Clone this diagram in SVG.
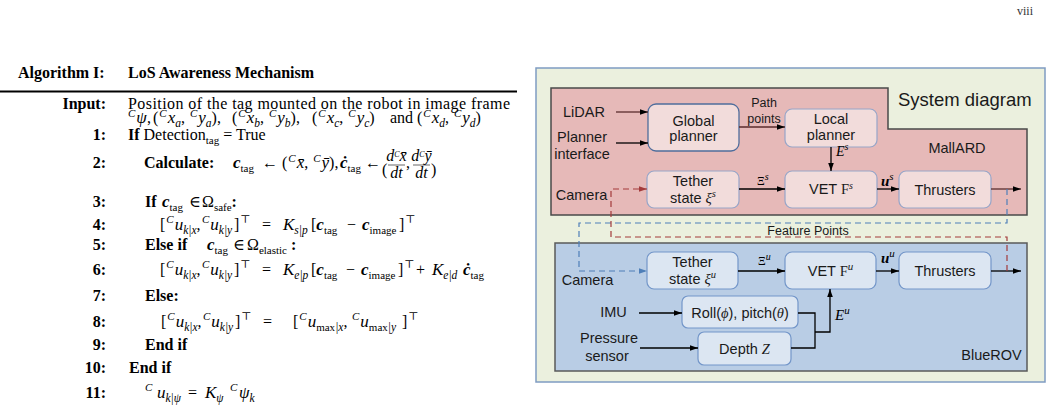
<svg xmlns="http://www.w3.org/2000/svg" width="1052" height="409" viewBox="0 0 1052 409">
<style>
.t{font-family:"Liberation Serif","DejaVu Serif",serif;font-size:16px;fill:#000}
.b{font-weight:bold}
.mi{font-style:italic;font-size:17px}
.bi{font-style:italic;font-weight:bold;font-size:17px}
.sc{font-style:italic;font-size:11px}
.sb{font-style:italic;font-size:11.5px}
.rs{font-size:11px;font-style:normal;font-weight:normal}
.num{font-weight:bold;text-anchor:end}
.sa{font-family:"Liberation Sans",Arial,sans-serif;font-size:14.5px;fill:#1a1a1a;text-anchor:middle}
.ss{font-family:"Liberation Serif","DejaVu Serif",serif;font-style:italic}
.sr{font-family:"Liberation Serif","DejaVu Serif",serif}
.ln{fill:none;stroke:#000;stroke-width:1.3}
.lr{fill:none;stroke:#5a2d2d;stroke-width:1.3}
.dr{fill:none;stroke:#a33b3b;stroke-width:1.2;stroke-dasharray:6 4}
.db{fill:none;stroke:#4f7fb8;stroke-width:1.2;stroke-dasharray:6 4}
.nr{fill:#f2dcdb;stroke:#97a5c8;stroke-width:1.2}
.nb{fill:#dce6f2;stroke:#7396c9;stroke-width:1.2}
</style>
<defs>
<marker id="ah" viewBox="0 0 10 10" refX="10" refY="5" markerWidth="8" markerHeight="8" markerUnits="userSpaceOnUse" orient="auto"><path d="M0,1.5 L10,5 L0,8.5 Z" fill="#000"/></marker>
<marker id="ahr" viewBox="0 0 10 10" refX="10" refY="5" markerWidth="8" markerHeight="8" markerUnits="userSpaceOnUse" orient="auto"><path d="M0,1.5 L10,5 L0,8.5 Z" fill="#a33b3b"/></marker>
<marker id="ahb" viewBox="0 0 10 10" refX="10" refY="5" markerWidth="8" markerHeight="8" markerUnits="userSpaceOnUse" orient="auto"><path d="M0,1.5 L10,5 L0,8.5 Z" fill="#4f7fb8"/></marker>
</defs>

<text x="1017" y="15" font-family="Liberation Serif, serif" font-size="12" fill="#333">viii</text>

<g id="algorithm">
<text class="t b" x="18" y="78">Algorithm I:</text>
<text class="t b" x="128" y="78">LoS Awareness Mechanism</text>
<rect x="0" y="90.5" width="517" height="2" fill="#000"/>
<text class="t num" x="106" y="109">Input:</text>
<text class="t" x="128" y="109" textLength="382" lengthAdjust="spacing">Position of the tag mounted on the robot in image frame</text>
<text class="t" y="123"><tspan x="128" y="117" class="sc">C</tspan><tspan y="123" class="mi" dx="1">ψ</tspan><tspan>,</tspan><tspan x="153">(</tspan><tspan y="117" class="sc" dx="1">C</tspan><tspan y="123" class="mi" dx="1">x</tspan><tspan y="127" class="sb">a</tspan><tspan y="123">, </tspan><tspan y="117" class="sc" dx="1">C</tspan><tspan y="123" class="mi" dx="1">y</tspan><tspan y="127" class="sb">a</tspan><tspan y="123">),</tspan><tspan x="232">(</tspan><tspan y="117" class="sc" dx="1">C</tspan><tspan y="123" class="mi" dx="1">x</tspan><tspan y="127" class="sb">b</tspan><tspan y="123">, </tspan><tspan y="117" class="sc" dx="1">C</tspan><tspan y="123" class="mi" dx="1">y</tspan><tspan y="127" class="sb">b</tspan><tspan y="123">),</tspan><tspan x="312">(</tspan><tspan y="117" class="sc" dx="1">C</tspan><tspan y="123" class="mi" dx="1">x</tspan><tspan y="127" class="sb">c</tspan><tspan y="123">, </tspan><tspan y="117" class="sc" dx="1">C</tspan><tspan y="123" class="mi" dx="1">y</tspan><tspan y="127" class="sb">c</tspan><tspan y="123">)</tspan><tspan x="390">and</tspan><tspan x="417">(</tspan><tspan y="117" class="sc" dx="1">C</tspan><tspan y="123" class="mi" dx="1">x</tspan><tspan y="127" class="sb">d</tspan><tspan y="123">, </tspan><tspan y="117" class="sc" dx="1">C</tspan><tspan y="123" class="mi" dx="1">y</tspan><tspan y="127" class="sb">d</tspan><tspan y="123">)</tspan></text>

<text class="t num" x="106" y="140">1:</text>
<text class="t" x="128" y="140"><tspan class="b">If </tspan>Detection<tspan class="rs" y="144">tag</tspan><tspan y="140"> = True</tspan></text>

<text class="t num" x="106" y="168">2:</text>
<text class="t" y="168"><tspan x="144" class="b">Calculate:</tspan><tspan x="233" class="bi">c</tspan><tspan class="rs" y="172">tag</tspan><tspan x="262" y="168">←</tspan><tspan x="282">(</tspan><tspan y="162" class="sc" dx="1">C</tspan><tspan y="168" class="mi" dx="1">x̄</tspan><tspan>, </tspan><tspan y="162" class="sc" dx="1">C</tspan><tspan y="168" class="mi" dx="1">ȳ</tspan><tspan>),</tspan><tspan x="340" class="bi">ċ</tspan><tspan class="rs" y="172">tag</tspan><tspan x="365" y="168">←</tspan></text>
<text class="t" x="382" y="175" font-size="23">(</text>
<text class="t" x="396.5" y="161" text-anchor="middle" font-size="11"><tspan font-style="italic">d</tspan><tspan font-size="8" font-style="italic" dy="-4">C</tspan><tspan font-style="italic" dy="4">x̄</tspan></text>
<line x1="388" y1="165" x2="405" y2="165" stroke="#000" stroke-width="0.6"/>
<text class="t" x="396.5" y="178" text-anchor="middle" font-size="11" font-style="italic">dt</text>
<text class="t" x="406" y="168">,</text>
<text class="t" x="421.5" y="161" text-anchor="middle" font-size="11"><tspan font-style="italic">d</tspan><tspan font-size="8" font-style="italic" dy="-4">C</tspan><tspan font-style="italic" dy="4">ȳ</tspan></text>
<line x1="413" y1="165" x2="430" y2="165" stroke="#000" stroke-width="0.6"/>
<text class="t" x="421.5" y="178" text-anchor="middle" font-size="11" font-style="italic">dt</text>
<text class="t" x="431" y="175" font-size="23">)</text>

<text class="t num" x="106" y="207">3:</text>
<text class="t" y="207"><tspan x="145" class="b">If</tspan><tspan x="162" class="bi">c</tspan><tspan class="rs" y="211">tag</tspan><tspan x="189" y="207">∈</tspan><tspan x="202">Ω</tspan><tspan class="rs" y="211">safe</tspan><tspan y="207" class="b">:</tspan></text>

<text class="t num" x="106" y="230">4:</text>
<text class="t" y="230"><tspan x="160">[</tspan><tspan y="223" class="sc" dx="1">C</tspan><tspan y="230" class="mi" dx="1">u</tspan><tspan y="234" class="sb">k|x</tspan><tspan y="230">,</tspan><tspan x="202" y="223" class="sc">C</tspan><tspan y="230" class="mi" dx="1">u</tspan><tspan y="234" class="sb">k|y</tspan><tspan x="234" y="230">]</tspan><tspan y="223" class="rs" dx="1">⊤</tspan><tspan x="262" y="230">=</tspan><tspan x="283" class="mi">K</tspan><tspan y="234" class="sb">s|p</tspan><tspan x="311" y="230">[</tspan><tspan class="bi">c</tspan><tspan class="rs" y="234">tag</tspan><tspan x="347" y="230">−</tspan><tspan x="362" class="bi">c</tspan><tspan class="rs" y="234">image</tspan><tspan x="399" y="230">]</tspan><tspan y="223" class="rs" dx="1">⊤</tspan></text>

<text class="t num" x="106" y="250">5:</text>
<text class="t" y="250"><tspan x="145" class="b">Else if</tspan><tspan x="207" class="bi">c</tspan><tspan class="rs" y="254">tag</tspan><tspan x="233" y="250">∈</tspan><tspan x="247">Ω</tspan><tspan class="rs" y="254">elastic</tspan><tspan x="291" y="250" class="b">:</tspan></text>

<text class="t num" x="106" y="275">6:</text>
<text class="t" y="275"><tspan x="160">[</tspan><tspan y="268" class="sc" dx="1">C</tspan><tspan y="275" class="mi" dx="1">u</tspan><tspan y="279" class="sb">k|x</tspan><tspan y="275">,</tspan><tspan x="202" y="268" class="sc">C</tspan><tspan y="275" class="mi" dx="1">u</tspan><tspan y="279" class="sb">k|y</tspan><tspan x="234" y="275">]</tspan><tspan y="268" class="rs" dx="1">⊤</tspan><tspan x="262" y="275">=</tspan><tspan x="283" class="mi">K</tspan><tspan y="279" class="sb">e|p</tspan><tspan x="311" y="275">[</tspan><tspan class="bi">c</tspan><tspan class="rs" y="279">tag</tspan><tspan x="346" y="275">−</tspan><tspan x="361" class="bi">c</tspan><tspan class="rs" y="279">image</tspan><tspan x="398" y="275">]</tspan><tspan y="268" class="rs" dx="1">⊤</tspan><tspan x="416" y="275">+</tspan><tspan x="432" class="mi">K</tspan><tspan y="279" class="sb">e|d</tspan><tspan x="463" y="275" class="bi">ċ</tspan><tspan class="rs" y="279">tag</tspan></text>

<text class="t num" x="106" y="301">7:</text>
<text class="t b" x="145" y="301">Else:</text>

<text class="t num" x="106" y="327">8:</text>
<text class="t" y="327"><tspan x="161">[</tspan><tspan y="320" class="sc" dx="1">C</tspan><tspan y="327" class="mi" dx="1">u</tspan><tspan y="331" class="sb">k|x</tspan><tspan y="327">,</tspan><tspan x="203" y="320" class="sc">C</tspan><tspan y="327" class="mi" dx="1">u</tspan><tspan y="331" class="sb">k|y</tspan><tspan x="235" y="327">]</tspan><tspan y="320" class="rs" dx="1">⊤</tspan><tspan x="263" y="327">=</tspan><tspan x="293">[</tspan><tspan y="320" class="sc" dx="1">C</tspan><tspan y="327" class="mi" dx="1">u</tspan><tspan y="331" class="rs">max</tspan><tspan y="331" class="sb">|x</tspan><tspan y="327">,</tspan><tspan x="352" y="320" class="sc">C</tspan><tspan y="327" class="mi" dx="1">u</tspan><tspan y="331" class="rs">max</tspan><tspan y="331" class="sb">|y</tspan><tspan x="402" y="327">]</tspan><tspan y="320" class="rs" dx="1">⊤</tspan></text>

<text class="t num" x="106" y="350">9:</text>
<text class="t b" x="145" y="350">End if</text>
<text class="t num" x="106" y="373">10:</text>
<text class="t b" x="129" y="373">End if</text>

<text class="t num" x="106" y="398">11:</text>
<text class="t" y="398"><tspan x="145" y="391" class="sc">C</tspan><tspan x="157" y="398" class="mi">u</tspan><tspan y="402" class="sb">k|ψ</tspan><tspan x="188" y="398">=</tspan><tspan x="205" class="mi">K</tspan><tspan y="402" class="sb">ψ</tspan><tspan x="230" y="391" class="sc">C</tspan><tspan x="239" y="398" class="mi">ψ</tspan><tspan y="402" class="sb">k</tspan></text>
</g>

<g id="panel">
<rect x="536" y="68" width="509" height="314" fill="#ebf0de" stroke="#7f9cc2" stroke-width="1.5"/>
<text x="898" y="106" font-family="Liberation Sans, Arial, sans-serif" font-size="18.5" fill="#1a1a1a">System diagram</text>
</g>

<g id="mallard">
<path d="M551,88 H888 V129 H1027 V215 H551 Z" fill="#e6b9b8" stroke="#4a4a4a" stroke-width="1.5"/>
<text class="sa" x="957" y="153">MallARD</text>
</g>

<g id="bluerov">
<rect x="555" y="243" width="472" height="128" fill="#b9cde5" stroke="#5a5a5a" stroke-width="1.5"/>
<text class="sa" x="991.5" y="360">BlueROV</text>
</g>

<g id="src-lidar"><text class="sa" x="584" y="117">LiDAR</text></g>
<g id="src-planner-interface"><text class="sa" x="582" y="142">Planner</text><text class="sa" x="582" y="159">interface</text></g>
<g id="src-camera-s"><text class="sa" x="581.5" y="200">Camera</text></g>
<g id="src-camera-u"><text class="sa" x="587.5" y="285">Camera</text></g>
<g id="src-imu"><text class="sa" x="613.5" y="317">IMU</text></g>
<g id="src-pressure"><text class="sa" x="609" y="343">Pressure</text><text class="sa" x="607" y="361">sensor</text></g>

<g id="node-global-planner"><rect x="648" y="104" width="91" height="47" rx="8" fill="#f2dcdb" stroke="#4f6d9c" stroke-width="1.3"/><text class="sa" x="693.5" y="126">Global</text><text class="sa" x="693.5" y="141">planner</text></g>
<g id="node-local-planner"><rect class="nr" x="785" y="109" width="92" height="38" rx="7"/><text class="sa" x="831" y="124">Local</text><text class="sa" x="831" y="140">planner</text></g>
<g id="node-tether-s"><rect class="nr" x="647" y="171" width="92" height="37" rx="7"/><text class="sa" x="693" y="186">Tether</text><text class="sa" x="693" y="203">state <tspan class="ss">ξ</tspan><tspan class="ss" font-size="10.5" dy="-6">s</tspan></text></g>
<g id="node-vet-s"><rect class="nr" x="785" y="171" width="92" height="37" rx="7"/><text class="sa" x="831" y="194" font-size="13">VET <tspan class="sr">F</tspan><tspan class="ss" font-size="10" dy="-5">s</tspan></text></g>
<g id="node-thrusters-s"><rect class="nr" x="899" y="171" width="92" height="37" rx="7"/><text class="sa" x="945" y="195">Thrusters</text></g>

<g id="node-tether-u"><rect class="nb" x="647" y="252" width="91" height="37" rx="7"/><text class="sa" x="692.5" y="267">Tether</text><text class="sa" x="692.5" y="284">state <tspan class="ss">ξ</tspan><tspan class="ss" font-size="10.5" dy="-6">u</tspan></text></g>
<g id="node-vet-u"><rect class="nb" x="785" y="252" width="91" height="37" rx="7"/><text class="sa" x="830.5" y="276" font-size="15">VET <tspan class="sr">F</tspan><tspan class="ss" font-size="11" dy="-6">u</tspan></text></g>
<g id="node-thrusters-u"><rect class="nb" x="899" y="252" width="92" height="37" rx="7"/><text class="sa" x="945" y="276">Thrusters</text></g>
<g id="node-roll-pitch"><rect class="nb" x="682" y="296" width="116" height="32" rx="6"/><text class="sa" x="740" y="318">Roll(<tspan class="ss">ϕ</tspan>), pitch(<tspan class="ss">θ</tspan>)</text></g>
<g id="node-depth"><rect class="nb" x="698" y="332" width="93" height="33" rx="6"/><text class="sa" x="744.5" y="354" font-size="13.5">Depth <tspan class="ss">Z</tspan></text></g>

<g id="connectors">
<path class="lr" d="M616,112 H648" marker-end="url(#ah)"/>
<path class="ln" d="M616,143 H648" marker-end="url(#ah)"/>
<path class="lr" d="M739,127 H785" marker-end="url(#ah)"/>
<path class="ln" d="M831,147 V171" marker-end="url(#ah)"/>
<path class="ln" d="M739,189 H785" marker-end="url(#ah)"/>
<path class="ln" d="M877,189 H899" marker-end="url(#ah)"/>
<path class="lr" d="M991,189 H1021" marker-end="url(#ah)"/>
<path class="ln" d="M738,271 H785" marker-end="url(#ah)"/>
<path class="ln" d="M876,271 H899" marker-end="url(#ah)"/>
<path class="ln" d="M991,271 H1021" marker-end="url(#ah)"/>
<path class="ln" d="M639,313 H682" marker-end="url(#ah)"/>
<path class="ln" d="M640,348 H698" marker-end="url(#ah)"/>
<path class="ln" d="M798,313 H815 V348 H791"/>
<path class="ln" d="M815,332 H830 V289" marker-end="url(#ah)"/>
<path class="db" d="M1007,189 V223 H579 V271 H647" marker-end="url(#ahb)"/>
<path class="dr" d="M1007,271 V237 H611 V189 H647" marker-end="url(#ahr)"/>
<text x="764" y="107" font-family="Liberation Sans, Arial, sans-serif" font-size="12.5" fill="#1a1a1a" text-anchor="middle">Path</text>
<text x="764" y="123" font-family="Liberation Sans, Arial, sans-serif" font-size="12.5" fill="#1a1a1a" text-anchor="middle">points</text>
<text x="808" y="235" font-family="Liberation Sans, Arial, sans-serif" font-size="12.5" fill="#1a1a1a" text-anchor="middle">Feature Points</text>
<text class="sr" x="757" y="185" font-size="12">Ξ<tspan class="ss" font-size="10" dy="-5">s</tspan></text>
<text class="ss" x="881" y="186" font-size="15" font-weight="bold">u<tspan font-size="11" font-weight="normal" dy="-6">s</tspan></text>
<text class="ss" x="836" y="156" font-size="14">E<tspan font-size="10" dy="-6">s</tspan></text>
<text class="sr" x="758" y="265" font-size="12">Ξ<tspan class="ss" font-size="10" dy="-5">u</tspan></text>
<text class="ss" x="881" y="263" font-size="15" font-weight="bold">u<tspan font-size="11" font-weight="normal" dy="-6">u</tspan></text>
<text class="ss" x="835" y="320" font-size="15">E<tspan font-size="11" dy="-6">u</tspan></text>
</g>
</svg>
